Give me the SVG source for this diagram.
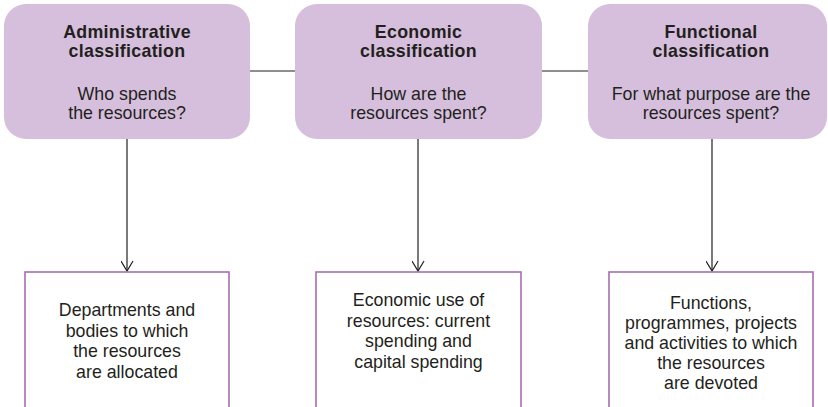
<svg xmlns="http://www.w3.org/2000/svg" width="828" height="407" viewBox="0 0 828 407">
<defs>
<style>
.top{fill:#d5bfdc;stroke:none}
.bot{fill:#ffffff;stroke:#a56fae;stroke-width:1.6}
.t{font-family:"Liberation Sans",Arial,Helvetica,sans-serif;font-size:17.8px;fill:#231f20;text-anchor:middle}
.b{font-weight:bold;letter-spacing:0.3px}
.c{stroke:#231f20;stroke-width:1.2;fill:none}
</style>
<marker id="ah" markerWidth="14" markerHeight="14" refX="6" refY="11" orient="0" markerUnits="userSpaceOnUse">
<path d="M0,1 L6,11 L12,1" fill="none" stroke="#231f20" stroke-width="1.2"/>
</marker>
</defs>
<rect width="828" height="407" fill="#ffffff"/>
<g id="connectors">
<line class="c" x1="250" y1="71" x2="295" y2="71"/>
<line class="c" x1="542" y1="71" x2="588" y2="71"/>
<line class="c" x1="127" y1="139" x2="127" y2="271" marker-end="url(#ah)"/>
<line class="c" x1="418" y1="139" x2="418" y2="271" marker-end="url(#ah)"/>
<line class="c" x1="712" y1="139" x2="712" y2="271" marker-end="url(#ah)"/>
</g>
<g id="admin">
<rect class="top" x="4" y="4" width="246" height="135" rx="22"/>
<text class="t b" x="127" y="37.5">Administrative</text>
<text class="t b" x="127" y="56.5">classification</text>
<text class="t" x="127" y="99.5">Who spends</text>
<text class="t" x="127" y="118.5">the resources?</text>
</g>
<g id="economic">
<rect class="top" x="295" y="4" width="247" height="135" rx="22"/>
<text class="t b" x="418.5" y="37.5">Economic</text>
<text class="t b" x="418.5" y="56.5">classification</text>
<text class="t" x="418.5" y="99.5">How are the</text>
<text class="t" x="418.5" y="118.5">resources spent?</text>
</g>
<g id="functional">
<rect class="top" x="588" y="4" width="239" height="135" rx="22"/>
<text class="t b" x="711" y="37.5">Functional</text>
<text class="t b" x="711" y="56.5">classification</text>
<text class="t" x="711" y="99.5">For what purpose are the</text>
<text class="t" x="711" y="118.5">resources spent?</text>
</g>
<g id="departments">
<rect class="bot" x="25" y="272" width="204" height="150"/>
<text class="t" x="127" y="316">Departments and</text>
<text class="t" x="127" y="336.5">bodies to which</text>
<text class="t" x="127" y="357">the resources</text>
<text class="t" x="127" y="377.5">are allocated</text>
</g>
<g id="economic-use">
<rect class="bot" x="316" y="272" width="205" height="150"/>
<text class="t" x="418.5" y="306">Economic use of</text>
<text class="t" x="418.5" y="326.5">resources: current</text>
<text class="t" x="418.5" y="347">spending and</text>
<text class="t" x="418.5" y="367.5">capital spending</text>
</g>
<g id="functions">
<rect class="bot" x="609" y="272" width="204" height="150"/>
<text class="t" x="711" y="308.5">Functions,</text>
<text class="t" x="711" y="328.5">programmes, projects</text>
<text class="t" x="711" y="348.5">and activities to which</text>
<text class="t" x="711" y="368.5">the resources</text>
<text class="t" x="711" y="388.5">are devoted</text>
</g>
</svg>
